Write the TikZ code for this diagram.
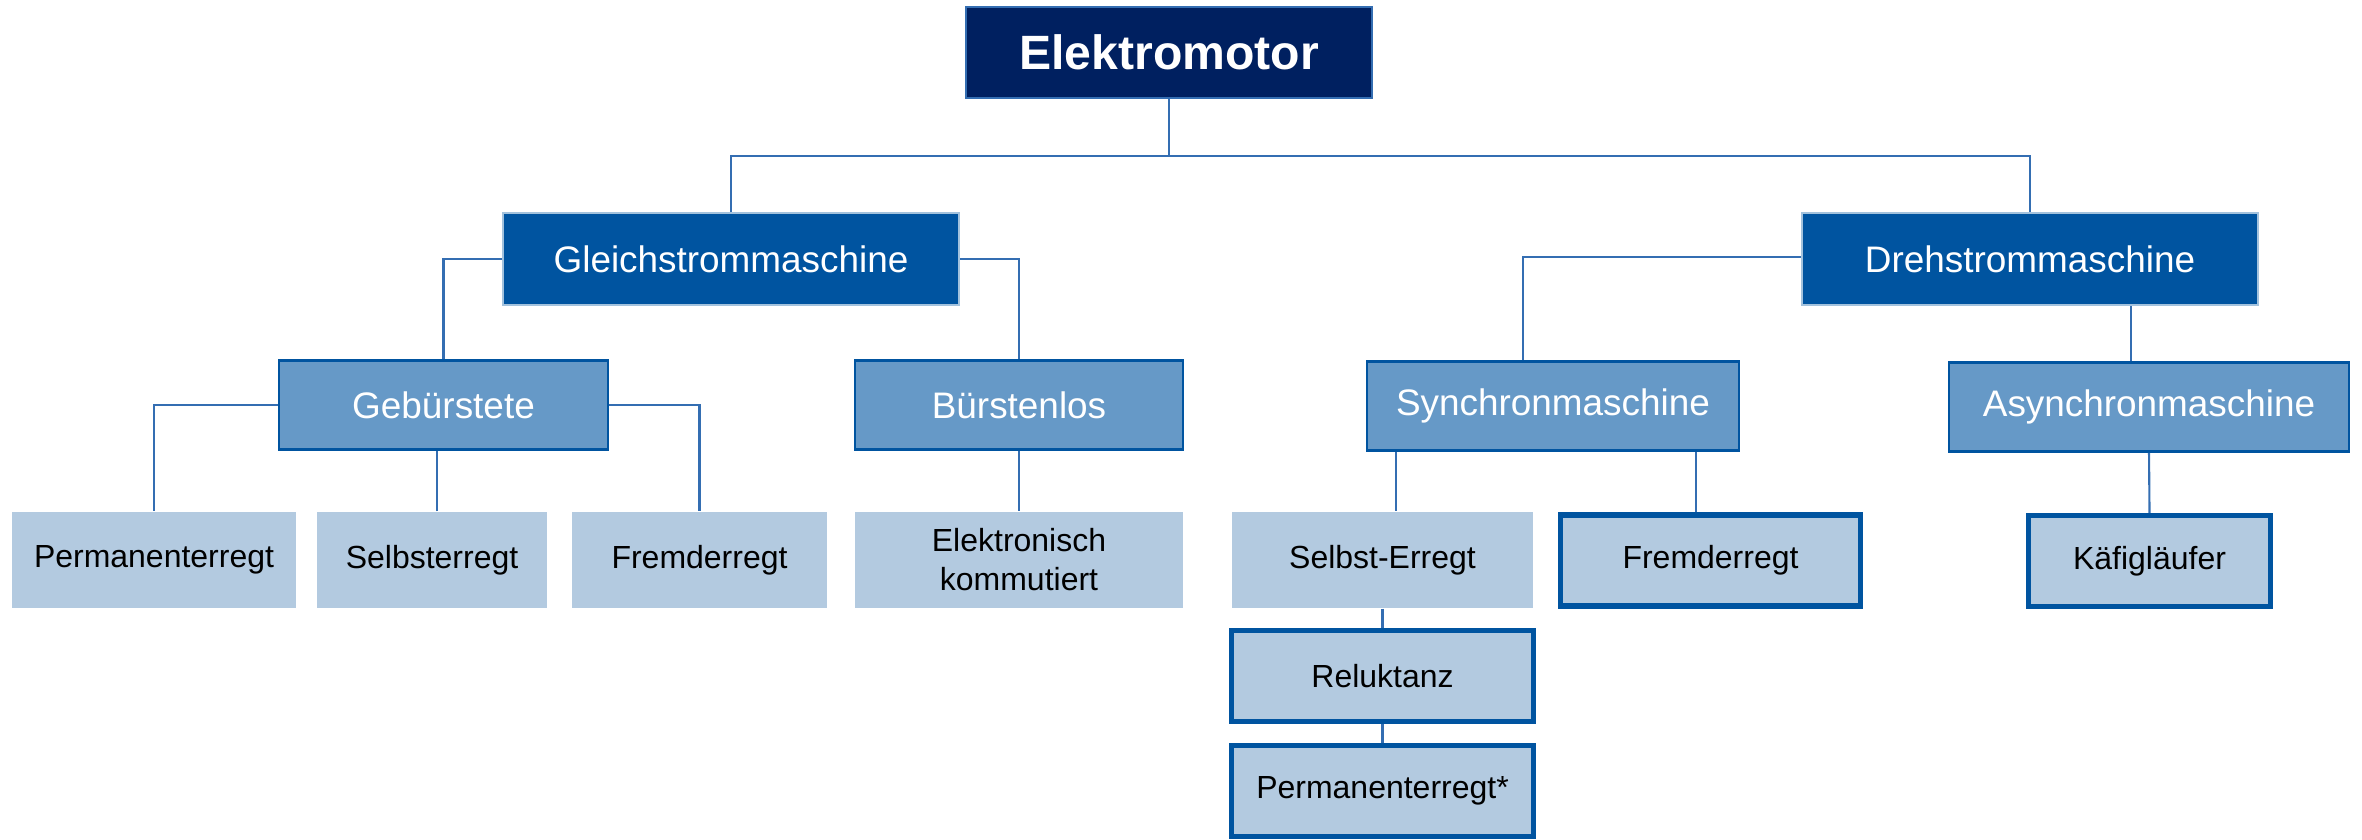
\documentclass[tikz,border=0pt]{standalone}
\usepackage{fontspec}
\setmainfont{Liberation Sans}
\usetikzlibrary{positioning}
\definecolor{emnavy}{RGB}{0,32,96}
\definecolor{emblue}{RGB}{0,84,160}
\definecolor{emmid}{RGB}{102,153,199}
\definecolor{emlight}{RGB}{179,202,224}
\definecolor{emline}{RGB}{52,110,178}

\begin{document}
\begin{tikzpicture}[
  topnode/.style={draw=emline, line width=0.6pt, fill=emnavy, text=white, inner sep=0pt, font=\fontsize{13.7}{16}\selectfont\bfseries, minimum width=4.06cm, minimum height=0.91cm},
  mainnode/.style={draw=emmid!60, line width=0.6pt, fill=emblue, text=white, inner sep=0pt, font=\fontsize{10.5}{12.6}\selectfont, minimum width=4.56cm, minimum height=0.92cm},
  subnode/.style={draw=emblue, line width=0.8pt, fill=emmid, text=white, inner sep=0pt, font=\fontsize{10.5}{12.6}\selectfont, minimum height=0.89cm},
  leafnode/.style={fill=emlight, inner sep=0pt, align=center, font=\fontsize{9.1}{11.1}\selectfont, minimum height=0.96cm},
  markednode/.style={draw=emblue, line width=1.45pt, fill=emlight, inner sep=0pt, font=\fontsize{9.1}{11.1}\selectfont, minimum height=0.91cm},
  link/.style={draw=emline, line width=0.6pt}]
\useasboundingbox (0,0) rectangle (23.62,8.39);
% Top
\node[topnode] (motor) at (11.69,7.865) {Elektromotor};
% Machine types
\node[mainnode] (gleich) at (7.31,5.80) {Gleichstrommaschine};
\node[mainnode] (dreh) at (20.30,5.80) {Drehstrommaschine};
% Subtypes
\node[subnode, minimum width=3.29cm] (gebuer) at (4.435,4.34) {Gebürstete};
\node[subnode, minimum width=3.28cm] (buerst) at (10.19,4.34) {Bürstenlos};
\node[subnode, minimum width=3.72cm] (syn) at (15.53,4.33) {Synchronmaschine};
\node[subnode, minimum width=4.00cm] (asyn) at (21.49,4.32) {Asynchronmaschine};
% Leaves
\node[leafnode, minimum width=2.84cm] (perm) at (1.54,2.79) {Permanenterregt};
\node[leafnode, minimum width=2.30cm] (selbst) at (4.32,2.79) {Selbsterregt};
\node[leafnode, minimum width=2.55cm] (fremd) at (6.995,2.79) {Fremderregt};
\node[leafnode, minimum width=3.28cm] (elkom) at (10.19,2.79) {Elektronisch\\kommutiert};
\node[leafnode, minimum width=3.01cm] (selbster) at (13.825,2.79) {Selbst-Erregt};
\node[markednode, minimum width=3.00cm] (fremdsyn) at (17.105,2.785) {Fremderregt};
\node[markednode, minimum width=2.42cm] (kaefig) at (21.495,2.78) {Käfigläufer};
\node[markednode, minimum width=3.02cm] (reluk) at (13.825,1.63) {Reluktanz};
\node[markednode, minimum width=3.02cm] (permsyn) at (13.825,0.48) {Permanenterregt*};
% Connections
\draw[link] (motor.south) -- ++(0,-0.57) -| (gleich.north);
\draw[link] (motor.south) -- ++(0,-0.57) -| (dreh.north);
\draw[link] (gleich.west) -| (gebuer.north);
\draw[link] (gleich.east) -| (buerst.north);
\draw[link] (gebuer.west) -| (perm.north);
\draw[link] (gebuer.east) -| (fremd.north);
\draw[link] ([xshift=0.05cm]selbst.north) -- ([xshift=0.05cm]selbst.north |- gebuer.south);
\draw[link] (buerst.south) -- (elkom.north);
\draw[link] ([yshift=0.02cm]dreh.west) -| ([xshift=-0.30cm]syn.north);
\draw[link] ([xshift=1.01cm]dreh.south) -- ([xshift=1.01cm]dreh.south |- asyn.north);
\draw[link] ([xshift=-1.57cm]syn.south) -- ([xshift=-1.57cm]syn.south |- selbster.north);
\draw[link] ([xshift=1.43cm]syn.south) -- ([xshift=1.43cm]syn.south |- fremdsyn.north);
\draw[link] (asyn.south) -- (kaefig.north);
\draw[link] (selbster.south) -- (reluk.north);
\draw[link] (reluk.south) -- (permsyn.north);
\end{tikzpicture}
\end{document}
